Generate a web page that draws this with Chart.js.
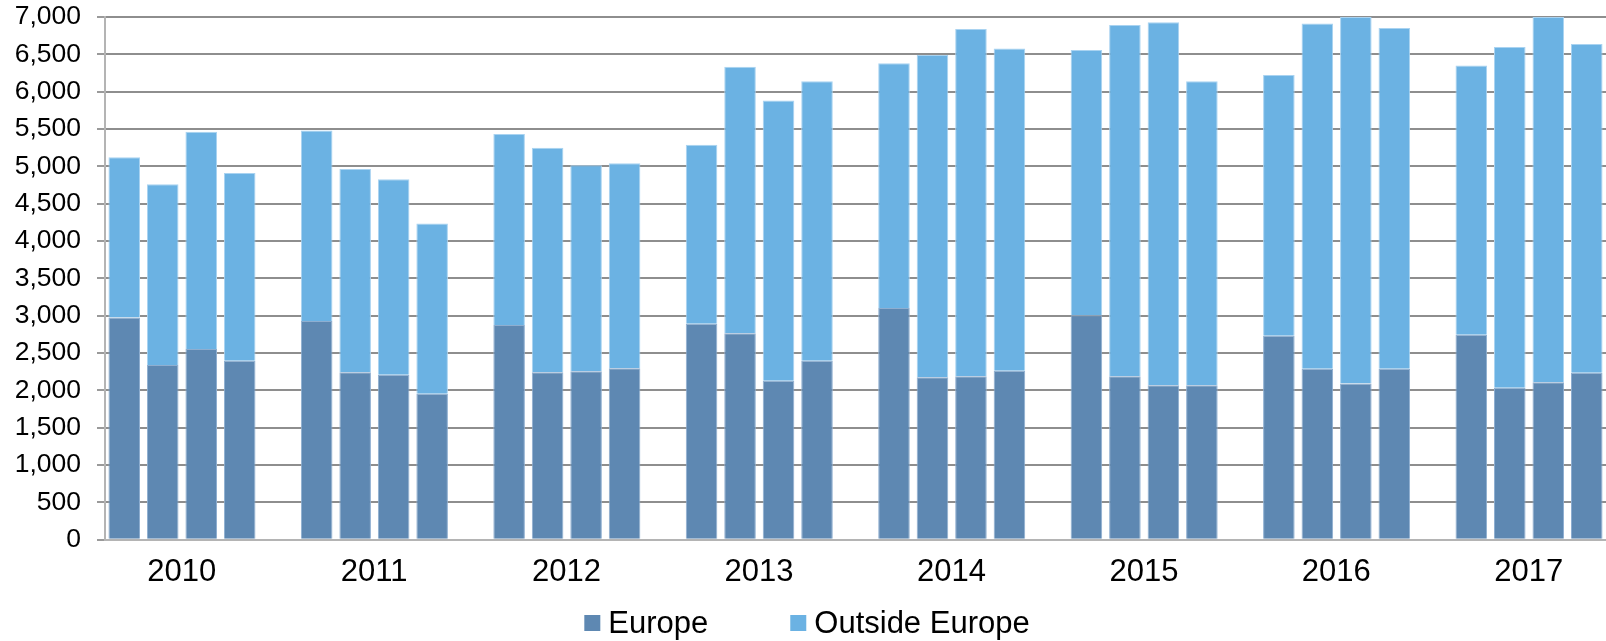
<!DOCTYPE html>
<html>
<head>
<meta charset="utf-8">
<script src="https://cdn.jsdelivr.net/npm/chart.js@4.4.1/dist/chart.umd.min.js"></script>
<style>
  html, body { margin: 0; padding: 0; background: #fff; overflow: hidden; }
  #chart { display: block; }
</style>
</head>
<body>
<canvas id="chart" width="1606" height="641"></canvas>
<script>
// quarterly counts, four quarters per year
const years = ['2010', '2011', '2012', '2013', '2014', '2015', '2016', '2017'];
const europe = [
  2975, 2339, 2554, 2398,
  2929, 2245, 2210, 1955,
  2875, 2245, 2258, 2298,
  2894, 2764, 2129, 2398,
  3104, 2178, 2191, 2263,
  3005, 2191, 2071, 2071,
  2732, 2290, 2093, 2290,
  2746, 2035, 2111, 2237
];
const outsideEurope = [
  2146, 2420, 2911, 2513,
  2550, 2720, 2616, 2281,
  2559, 3005, 2756, 2743,
  2396, 3569, 3752, 3743,
  3278, 4312, 4648, 4316,
  3552, 4702, 4858, 4070,
  3490, 4624, 4907, 4562,
  3604, 4562, 4889, 4400
];
const yTicks = { min: 0, max: 7000, step: 500 };

const FONT = "'Liberation Sans', Arial, sans-serif";

// lay the quarters out with an empty slot between years
const labels = [];
const euData = [];
const outData = [];
years.forEach((y, i) => {
  for (let q = 0; q < 4; q++) {
    labels.push(q === 1 ? y : '');
    euData.push(europe[i * 4 + q]);
    outData.push(outsideEurope[i * 4 + q]);
  }
  if (i < years.length - 1) {
    labels.push('');
    euData.push(null);
    outData.push(null);
  }
});

// legend drawn under the axis labels
const bottomLegend = {
  id: 'bottomLegend',
  afterDraw(chart) {
    const ctx = chart.ctx;
    const box = 16, gapText = 8, gapItem = 82;
    ctx.save();
    ctx.font = '31px ' + FONT;
    ctx.textBaseline = 'middle';
    const items = chart.data.datasets.map(ds => ({
      text: ds.label,
      color: ds.backgroundColor,
      w: box + gapText + ctx.measureText(ds.label).width
    }));
    const total = items.reduce((s, it) => s + it.w, 0) + gapItem * (items.length - 1);
    let x = chart.width / 2 + 4 - total / 2;
    const cy = 623;
    items.forEach(it => {
      ctx.fillStyle = it.color;
      ctx.fillRect(x, cy - box / 2, box, box);
      ctx.fillStyle = '#000';
      ctx.fillText(it.text, x + box + gapText, cy + 1);
      x += it.w + gapItem;
    });
    ctx.restore();
  }
};

new Chart(document.getElementById('chart'), {
  type: 'bar',
  data: {
    labels: labels,
    datasets: [
      {
        label: 'Europe',
        data: euData,
        backgroundColor: '#5E88B2',
        borderColor: '#8eaed0',
        borderWidth: 1,
        barPercentage: 0.82,
        categoryPercentage: 1
      },
      {
        label: 'Outside Europe',
        data: outData,
        backgroundColor: '#6BB2E3',
        borderColor: '#a9d3f1',
        borderWidth: 1,
        barPercentage: 0.82,
        categoryPercentage: 1
      }
    ]
  },
  options: {
    responsive: false,
    animation: false,
    devicePixelRatio: 1,
    layout: { padding: { top: 17, right: 0, bottom: 36, left: 0 } },
    plugins: {
      legend: { display: false },
      tooltip: { enabled: false }
    },
    scales: {
      x: {
        stacked: true,
        grid: { display: false, drawTicks: false },
        border: { display: true, color: '#b4b4b4', width: 2 },
        ticks: {
          autoSkip: false,
          maxRotation: 0,
          padding: 14,
          labelOffset: 19,
          color: '#000',
          font: { family: FONT, size: 31 }
        }
      },
      y: {
        stacked: true,
        min: yTicks.min,
        max: yTicks.max,
        afterFit(scale) {
          scale.width = 105;
          scale.paddingTop = 0;
          scale.paddingBottom = 0;
        },
        grid: {
          color: ctx => (ctx.tick && ctx.tick.value === 0 ? '#b4b4b4' : '#8e8e8e'),
          lineWidth: 2,
          tickLength: 8,
          tickColor: '#9a9a9a'
        },
        border: { display: true, color: '#b4b4b4', width: 2 },
        ticks: {
          stepSize: yTicks.step,
          padding: 16,
          color: '#000',
          font: { family: FONT, size: 26.5 },
          callback: v => v.toLocaleString('en-US')
        }
      }
    }
  },
  plugins: [bottomLegend]
});
</script>
</body>
</html>
